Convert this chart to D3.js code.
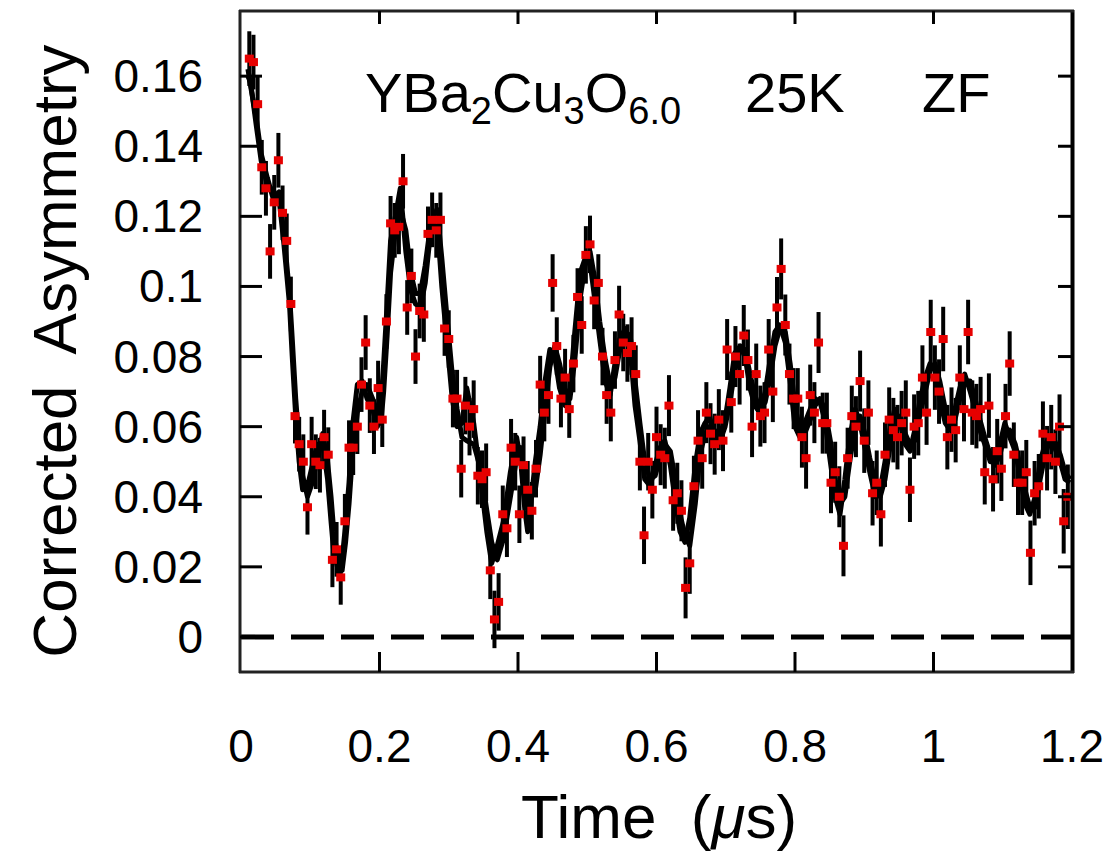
<!DOCTYPE html>
<html>
<head>
<meta charset="utf-8">
<script src="https://cdn.jsdelivr.net/npm/d3@7"></script>
<style>
  html, body { margin: 0; padding: 0; background: #fff; }
  svg { display: block; }
  text { font-family: "Liberation Sans", Arial, Helvetica, sans-serif; fill: #000; }
</style>
</head>
<body>
<svg id="chart" width="1116" height="855"></svg>
<script>
// Zero-field muSR spectrum, YBa2Cu3O6.0 at 25 K

// Histogram bin times (microseconds)
const binTimes = [
  0.012,0.018,0.024,0.030,0.036,0.042,0.048,0.054,0.060,0.066,
  0.072,0.078,0.084,0.090,0.096,0.102,0.108,0.114,0.120,0.126,
  0.132,0.138,0.144,0.150,0.156,0.162,0.168,0.174,0.180,0.186,
  0.192,0.198,0.204,0.210,0.216,0.222,0.228,0.234,0.240,0.246,
  0.252,0.258,0.264,0.270,0.276,0.282,0.288,0.294,0.300,0.306,
  0.312,0.318,0.324,0.330,0.336,0.342,0.348,0.354,0.360,0.366,
  0.372,0.378,0.384,0.390,0.396,0.402,0.408,0.414,0.420,0.426,
  0.432,0.438,0.444,0.450,0.456,0.462,0.468,0.474,0.480,0.486,
  0.492,0.498,0.504,0.510,0.516,0.522,0.528,0.534,0.540,0.546,
  0.552,0.558,0.564,0.570,0.576,0.582,0.588,0.594,0.600,0.606,
  0.612,0.618,0.624,0.630,0.636,0.642,0.648,0.654,0.660,0.666,
  0.672,0.678,0.684,0.690,0.696,0.702,0.708,0.714,0.720,0.726,
  0.732,0.738,0.744,0.750,0.756,0.762,0.768,0.774,0.780,0.786,
  0.792,0.798,0.804,0.810,0.816,0.822,0.828,0.834,0.840,0.846,
  0.852,0.858,0.864,0.870,0.876,0.882,0.888,0.894,0.900,0.906,
  0.912,0.918,0.924,0.930,0.936,0.942,0.948,0.954,0.960,0.966,
  0.972,0.978,0.984,0.990,0.996,1.002,1.008,1.014,1.020,1.026,
  1.032,1.038,1.044,1.050,1.056,1.062,1.068,1.074,1.080,1.086,
  1.092,1.098,1.104,1.110,1.116,1.122,1.128,1.134,1.140,1.146,
  1.152,1.158,1.164,1.170,1.176,1.182,1.188,1.194
];

// Corrected asymmetry in each bin
const asymmetry = [
  0.165,0.164,0.152,0.134,0.128,0.110,0.124,0.136,0.121,0.113,
  0.095,0.063,0.055,0.050,0.037,0.055,0.050,0.049,0.057,0.052,
  0.022,0.025,0.017,0.033,0.054,0.054,0.060,0.072,0.084,0.066,
  0.060,0.071,0.062,0.090,0.118,0.116,0.117,0.130,0.094,0.103,
  0.080,0.093,0.092,0.115,0.119,0.116,0.119,0.088,0.085,0.068,
  0.068,0.048,0.066,0.060,0.065,0.046,0.045,0.047,0.019,0.005,
  0.010,0.035,0.031,0.054,0.050,0.035,0.049,0.042,0.036,0.048,
  0.072,0.064,0.069,0.101,0.083,0.068,0.074,0.065,0.078,0.097,
  0.089,0.109,0.112,0.096,0.101,0.080,0.069,0.064,0.079,0.092,
  0.084,0.081,0.083,0.075,0.050,0.029,0.050,0.042,0.057,0.052,
  0.051,0.066,0.039,0.041,0.036,0.014,0.021,0.043,0.056,0.051,
  0.064,0.058,0.055,0.062,0.056,0.082,0.067,0.080,0.075,0.086,
  0.079,0.060,0.075,0.063,0.064,0.082,0.070,0.094,0.105,0.089,
  0.075,0.068,0.068,0.057,0.051,0.069,0.064,0.084,0.061,0.061,
  0.044,0.047,0.040,0.026,0.051,0.063,0.060,0.073,0.056,0.064,
  0.041,0.044,0.035,0.052,0.062,0.059,0.057,0.061,0.064,0.042,
  0.060,0.061,0.074,0.064,0.087,0.074,0.070,0.085,0.057,0.062,
  0.059,0.074,0.065,0.087,0.064,0.063,0.065,0.047,0.066,0.045,
  0.053,0.048,0.063,0.078,0.052,0.044,0.044,0.047,0.024,0.041,
  0.043,0.058,0.051,0.057,0.050,0.060,0.033,0.040
];

// Statistical error, by time window (errors grow as the muons decay)
const errWindowStart = [0.0, 0.3, 0.6, 0.9];
const errWindowValue = [0.0078, 0.0082, 0.0087, 0.0092];

// Two model fits evaluated on a common time grid
const fitTime = [
  0.010,0.014,0.022,0.029,0.038,0.048,0.055,0.062,0.070,0.074,
  0.079,0.084,0.089,0.096,0.103,0.110,0.118,0.125,0.130,0.134,
  0.142,0.146,0.151,0.156,0.161,0.168,0.175,0.182,0.190,0.197,
  0.202,0.206,0.211,0.216,0.223,0.230,0.238,0.245,0.252,0.259,
  0.266,0.274,0.283,0.290,0.298,0.305,0.312,0.319,0.326,0.336,
  0.346,0.355,0.362,0.370,0.379,0.389,0.398,0.404,0.410,0.414,
  0.425,0.432,0.439,0.446,0.453,0.460,0.468,0.475,0.482,0.490,
  0.497,0.504,0.511,0.518,0.526,0.533,0.540,0.547,0.555,0.562,
  0.569,0.576,0.583,0.591,0.598,0.605,0.612,0.620,0.627,0.634,
  0.641,0.648,0.656,0.663,0.670,0.677,0.684,0.692,0.699,0.706,
  0.713,0.721,0.728,0.735,0.742,0.749,0.757,0.764,0.771,0.778,
  0.786,0.793,0.800,0.807,0.814,0.822,0.829,0.836,0.843,0.851,
  0.858,0.865,0.872,0.879,0.887,0.894,0.901,0.908,0.916,0.923,
  0.930,0.937,0.944,0.952,0.959,0.966,0.973,0.980,0.988,0.995,
  1.002,1.009,1.017,1.024,1.031,1.038,1.045,1.053,1.060,1.067,
  1.074,1.082,1.089,1.096,1.103,1.110,1.118,1.125,1.132,1.139,
  1.147,1.154,1.161,1.168,1.175,1.183,1.190,1.197
];

const fitMain = [
  0.160,0.158,0.146,0.136,0.129,0.127,0.125,0.112,0.095,0.080,
  0.063,0.050,0.042,0.043,0.049,0.055,0.055,0.045,0.033,0.024,
  0.018,0.022,0.032,0.044,0.060,0.072,0.073,0.068,0.065,0.060,
  0.066,0.078,0.095,0.113,0.120,0.128,0.110,0.099,0.095,0.094,
  0.101,0.116,0.119,0.100,0.083,0.068,0.060,0.061,0.071,0.061,
  0.045,0.030,0.021,0.026,0.033,0.047,0.057,0.050,0.036,0.030,
  0.050,0.060,0.073,0.082,0.080,0.071,0.066,0.071,0.087,0.104,
  0.108,0.107,0.096,0.085,0.073,0.069,0.078,0.085,0.088,0.082,
  0.066,0.056,0.045,0.043,0.049,0.054,0.056,0.049,0.039,0.030,
  0.027,0.034,0.049,0.058,0.061,0.063,0.055,0.058,0.062,0.071,
  0.081,0.083,0.080,0.071,0.066,0.064,0.070,0.079,0.087,0.089,
  0.084,0.073,0.060,0.057,0.061,0.065,0.068,0.067,0.062,0.050,
  0.040,0.035,0.045,0.057,0.065,0.061,0.054,0.047,0.040,0.042,
  0.050,0.059,0.065,0.061,0.055,0.053,0.059,0.067,0.074,0.078,
  0.076,0.068,0.061,0.059,0.065,0.071,0.075,0.070,0.065,0.059,
  0.055,0.050,0.050,0.055,0.061,0.057,0.053,0.046,0.038,0.035,
  0.040,0.050,0.055,0.057,0.054,0.050,0.045,0.044
];

const fitAlt = [
  0.162,0.157,0.148,0.138,0.131,0.124,0.127,0.115,0.098,0.085,
  0.068,0.055,0.046,0.040,0.044,0.051,0.058,0.050,0.040,0.030,
  0.020,0.019,0.027,0.038,0.052,0.064,0.070,0.072,0.068,0.064,
  0.061,0.070,0.086,0.104,0.116,0.122,0.116,0.104,0.098,0.098,
  0.106,0.118,0.122,0.108,0.090,0.075,0.065,0.057,0.056,0.055,
  0.048,0.036,0.027,0.022,0.028,0.040,0.051,0.054,0.045,0.039,
  0.042,0.052,0.065,0.077,0.083,0.078,0.070,0.068,0.079,0.097,
  0.106,0.110,0.102,0.090,0.079,0.072,0.074,0.082,0.087,0.086,
  0.073,0.061,0.050,0.045,0.046,0.051,0.055,0.053,0.045,0.035,
  0.029,0.026,0.038,0.052,0.058,0.060,0.059,0.056,0.060,0.067,
  0.076,0.082,0.082,0.075,0.069,0.065,0.067,0.074,0.083,0.088,
  0.087,0.078,0.066,0.059,0.058,0.062,0.066,0.068,0.065,0.056,
  0.045,0.038,0.040,0.050,0.060,0.063,0.058,0.051,0.044,0.040,
  0.045,0.054,0.062,0.063,0.058,0.055,0.056,0.063,0.070,0.076,
  0.078,0.073,0.065,0.060,0.062,0.068,0.073,0.073,0.068,0.062,
  0.057,0.052,0.049,0.052,0.058,0.059,0.055,0.049,0.042,0.037,
  0.037,0.045,0.052,0.056,0.056,0.052,0.047,0.045
];

// Axis ticks
const xTicks = [0, 0.2, 0.4, 0.6, 0.8, 1.0, 1.2];
const xTickLabels = ["0", "0.2", "0.4", "0.6", "0.8", "1", "1.2"];
const yTicks = [0, 0.02, 0.04, 0.06, 0.08, 0.1, 0.12, 0.14, 0.16];
const yTickLabels = ["0", "0.02", "0.04", "0.06", "0.08", "0.1", "0.12", "0.14", "0.16"];

// ---------------------------------------------------------------------------
const svg = d3.select("#chart");
const frame = { left: 241, right: 1072, top: 12, bottom: 672 };

const x = d3.scaleLinear().domain([0, 1.2]).range([frame.left, frame.right]);
const y = d3.scaleLinear().domain([-0.01, 0.1783]).range([frame.bottom, frame.top]);

svg.append("rect").attr("width", 1116).attr("height", 855).attr("fill", "#fff");

svg.append("defs").append("clipPath").attr("id", "plotClip")
  .append("rect")
  .attr("x", frame.left).attr("y", frame.top)
  .attr("width", frame.right - frame.left).attr("height", frame.bottom - frame.top);

const plot = svg.append("g").attr("clip-path", "url(#plotClip)");

// zero baseline
plot.append("line")
  .attr("x1", x(0)).attr("x2", x(1.2))
  .attr("y1", y(0)).attr("y2", y(0))
  .attr("stroke", "#000").attr("stroke-width", 5)
  .attr("stroke-dasharray", "33,17");

const errorOf = t => {
  const i = d3.bisectRight(errWindowStart, t) - 1;
  return errWindowValue[Math.max(0, i)];
};

const points = binTimes.map((t, i) => ({ t, a: asymmetry[i], e: errorOf(t) }));

// error bars
plot.append("g").selectAll("line").data(points).join("line")
  .attr("x1", d => x(d.t)).attr("x2", d => x(d.t))
  .attr("y1", d => y(d.a - d.e)).attr("y2", d => y(d.a + d.e))
  .attr("stroke", "#000").attr("stroke-width", 4);

// fit curves
const line = d3.line().x(d => x(d[0])).y(d => y(d[1])).curve(d3.curveLinear);
[fitMain, fitAlt].forEach(series => {
  plot.append("path")
    .datum(fitTime.map((t, i) => [t, series[i]]))
    .attr("d", line)
    .attr("fill", "none")
    .attr("stroke", "#000")
    .attr("stroke-width", 5)
    .attr("stroke-linejoin", "round");
});

// data markers
plot.append("g").selectAll("rect").data(points).join("rect")
  .attr("x", d => x(d.t) - 4.5).attr("y", d => y(d.a) - 4)
  .attr("width", 9).attr("height", 8)
  .attr("fill", "#e60000");

// frame
const axisColor = "#222";
svg.append("line").attr("x1", 240).attr("x2", 240).attr("y1", 10).attr("y2", 673)
  .attr("stroke", axisColor).attr("stroke-width", 3);
svg.append("line").attr("x1", 1072.5).attr("x2", 1072.5).attr("y1", 10).attr("y2", 673)
  .attr("stroke", "#000").attr("stroke-width", 4);
svg.append("line").attr("x1", 239).attr("x2", 1074).attr("y1", 11).attr("y2", 11)
  .attr("stroke", axisColor).attr("stroke-width", 3);
svg.append("line").attr("x1", 239).attr("x2", 1074).attr("y1", 672).attr("y2", 672)
  .attr("stroke", axisColor).attr("stroke-width", 3);

// inward ticks: bottom & left longer, top & right shorter
const ticks = svg.append("g").attr("stroke", "#000").attr("stroke-width", 3);
xTicks.slice(1, -1).forEach(v => {
  ticks.append("line").attr("x1", x(v)).attr("x2", x(v)).attr("y1", 672).attr("y2", 652);
  ticks.append("line").attr("x1", x(v)).attr("x2", x(v)).attr("y1", 11).attr("y2", 24);
});
yTicks.forEach(v => {
  ticks.append("line").attr("x1", 240).attr("x2", 262).attr("y1", y(v)).attr("y2", y(v));
  ticks.append("line").attr("x1", 1072).attr("x2", 1058).attr("y1", y(v)).attr("y2", y(v));
});

// tick labels
svg.append("g").selectAll("text").data(yTicks).join("text")
  .attr("x", 203).attr("y", d => y(d) + 16)
  .attr("text-anchor", "end").attr("font-size", 46)
  .text((d, i) => yTickLabels[i]);

svg.append("g").selectAll("text").data(xTicks).join("text")
  .attr("x", d => x(d)).attr("y", 762)
  .attr("text-anchor", "middle").attr("font-size", 46)
  .text((d, i) => xTickLabels[i]);

// axis titles
svg.append("text")
  .attr("transform", "translate(76,351) rotate(-90)")
  .attr("text-anchor", "middle").attr("font-size", 62)
  .attr("xml:space", "preserve")
  .text("Corrected  Asymmetry");

const xt = svg.append("text")
  .attr("x", 659).attr("y", 838)
  .attr("text-anchor", "middle").attr("font-size", 62)
  .attr("xml:space", "preserve");
xt.append("tspan").text("Time  (");
xt.append("tspan").attr("font-style", "italic").text("\u03BC");
xt.append("tspan").text("s)");

// sample annotation
const ann = svg.append("text").attr("x", 365).attr("y", 112).attr("font-size", 56);
ann.append("tspan").text("YBa");
ann.append("tspan").attr("font-size", 38).attr("dy", 12).text("2");
ann.append("tspan").attr("dy", -12).text("Cu");
ann.append("tspan").attr("font-size", 38).attr("dy", 12).text("3");
ann.append("tspan").attr("dy", -12).text("O");
ann.append("tspan").attr("font-size", 38).attr("dy", 12).text("6.0");

svg.append("text").attr("x", 745).attr("y", 112).attr("font-size", 56).text("25K");
svg.append("text").attr("x", 922).attr("y", 112).attr("font-size", 56).text("ZF");
</script>
</body>
</html>
